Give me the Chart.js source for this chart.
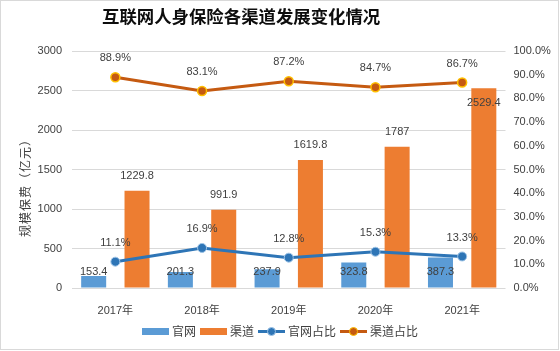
<!DOCTYPE html>
<html>
<head>
<meta charset="utf-8">
<script src="https://cdn.jsdelivr.net/npm/chart.js@4.4.1/dist/chart.umd.min.js"></script>
<style>
html,body{margin:0;padding:0;background:#fff;}
canvas{display:block;}
</style>
</head>
<body>
<canvas id="c" width="560" height="351"></canvas>
<script>
const categories = ['2017年', '2018年', '2019年', '2020年', '2021年'];
const officialPremium = [153.4, 201.3, 237.9, 323.8, 387.3];
const channelPremium = [1229.8, 991.9, 1619.8, 1787, 2529.4];
const officialShare = [11.1, 16.9, 12.8, 15.3, 13.3];
const channelShare = [88.9, 83.1, 87.2, 84.7, 86.7];
const leftTicks = [0, 500, 1000, 1500, 2000, 2500, 3000];
const rightTicks = [0, 10, 20, 30, 40, 50, 60, 70, 80, 90, 100];
const titleText = '互联网人身保险各渠道发展变化情况';
const yTitleText = '规模保费（亿元）';
const seriesNames = ['官网', '渠道', '官网占比', '渠道占比'];

const FONT = '"Liberation Sans", "Noto Sans CJK SC", sans-serif';
const CJK = '"Noto Sans CJK SC", "Liberation Sans", sans-serif';
const C_BLUE = '#5B9BD5', C_ORANGE = '#ED7D31', C_BLUE_L = '#2E75B6', C_ORANGE_L = '#C55A11';

const decor = {
  id: 'decor',
  afterDatasetsDraw(chart) {
    const ctx = chart.ctx;
    ctx.save();
    ctx.font = '11px ' + FONT;
    ctx.fillStyle = '#404040';
    ctx.textAlign = 'center';
    ctx.textBaseline = 'middle';
    const mBlue = chart.getDatasetMeta(0), mOr = chart.getDatasetMeta(1);
    const mBL = chart.getDatasetMeta(2), mOL = chart.getDatasetMeta(3);
    const base = chart.scales.y.getPixelForValue(0);
    mBlue.data.forEach((el, i) => {
      ctx.fillText(String(officialPremium[i]), el.x, base - 16);
    });
    mOr.data.forEach((el, i) => {
      let y = el.y - 15;
      const py = mOL.data[i].y;
      if (Math.abs(y - py) < 14) y = el.y + 15;
      ctx.fillText(String(channelPremium[i]), el.x, y);
    });
    mBL.data.forEach((el, i) => {
      ctx.fillText(officialShare[i].toFixed(1) + '%', el.x, el.y - 19);
    });
    mOL.data.forEach((el, i) => {
      ctx.fillText(channelShare[i].toFixed(1) + '%', el.x, el.y - 19);
    });
    ctx.restore();
  },
  afterDraw(chart) {
    const ctx = chart.ctx;
    ctx.save();
    ctx.strokeStyle = '#d9d9d9';
    ctx.lineWidth = 1;
    ctx.strokeRect(0.5, 0.5, 558, 349);
    ctx.font = 'bold 17.4px ' + CJK;
    ctx.fillStyle = '#0d0d0d';
    ctx.textAlign = 'left';
    ctx.textBaseline = 'middle';
    ctx.fillText(titleText, 102, 16);
    ctx.save();
    ctx.translate(25, 185);
    ctx.rotate(-Math.PI / 2);
    ctx.font = '12px ' + CJK;
    ctx.fillStyle = '#404040';
    ctx.textAlign = 'center';
    ctx.textBaseline = 'middle';
    if ('letterSpacing' in ctx) ctx.letterSpacing = '1px';
    ctx.fillText(yTitleText, 0, 0);
    ctx.restore();
    ctx.font = '12px ' + CJK;
    ctx.textBaseline = 'middle';
    const ly = 331.5;
    const sw = 27, gap = 3, sep = 4;
    const widths = seriesNames.map(n => sw + gap + ctx.measureText(n).width);
    const total = widths.reduce((a, b) => a + b, 0) + sep * (seriesNames.length - 1);
    let x = 280 - total / 2;
    const colors = [C_BLUE, C_ORANGE, C_BLUE_L, C_ORANGE_L];
    seriesNames.forEach((n, i) => {
      if (i < 2) {
        ctx.fillStyle = colors[i];
        ctx.fillRect(x, ly - 3.5, sw, 7);
      } else {
        ctx.strokeStyle = colors[i];
        ctx.lineWidth = 3;
        ctx.beginPath();
        ctx.moveTo(x, ly);
        ctx.lineTo(x + sw, ly);
        ctx.stroke();
        ctx.beginPath();
        ctx.arc(x + sw / 2, ly, 4, 0, Math.PI * 2);
        ctx.fillStyle = colors[i];
        ctx.fill();
        ctx.lineWidth = 1;
        ctx.strokeStyle = i === 2 ? '#9DC3E6' : '#FFC000';
        ctx.stroke();
      }
      ctx.fillStyle = '#404040';
      ctx.textAlign = 'left';
      ctx.fillText(n, x + sw + gap, ly);
      x += widths[i] + sep;
    });
    ctx.restore();
  }
};

new Chart(document.getElementById('c'), {
  data: {
    labels: categories,
    datasets: [
      { type: 'bar', label: seriesNames[0], data: officialPremium, backgroundColor: C_BLUE, yAxisID: 'y', order: 2, barPercentage: 0.577, categoryPercentage: 1 },
      { type: 'bar', label: seriesNames[1], data: channelPremium, backgroundColor: C_ORANGE, yAxisID: 'y', order: 2, barPercentage: 0.577, categoryPercentage: 1 },
      { type: 'line', label: seriesNames[2], data: officialShare, borderColor: C_BLUE_L, backgroundColor: C_BLUE_L, borderWidth: 3, pointRadius: 4.5, pointBorderColor: '#9DC3E6', pointBorderWidth: 1, pointBackgroundColor: C_BLUE_L, yAxisID: 'y1', order: 1, tension: 0 },
      { type: 'line', label: seriesNames[3], data: channelShare, borderColor: C_ORANGE_L, backgroundColor: C_ORANGE_L, borderWidth: 3, pointRadius: 4.5, pointBorderColor: '#FFC000', pointBorderWidth: 1.5, pointBackgroundColor: C_ORANGE_L, yAxisID: 'y1', order: 0, tension: 0 }
    ]
  },
  options: {
    responsive: false,
    animation: false,
    devicePixelRatio: 1,
    layout: { padding: { top: 51, left: 0, right: 0, bottom: 0 } },
    plugins: { legend: { display: false }, title: { display: false }, tooltip: { enabled: false } },
    scales: {
      x: {
        grid: { display: false },
        border: { display: false },
        ticks: { font: { size: 11, family: FONT }, color: '#404040', padding: 8 },
        afterFit(s) { s.height = 63; }
      },
      y: {
        position: 'left', min: 0, max: 3000,
        afterBuildTicks(s) { s.ticks = leftTicks.map(v => ({ value: v })); },
        grid: { color: '#d9d9d9', drawTicks: false },
        border: { display: false },
        ticks: { font: { size: 11, family: FONT }, color: '#404040', padding: 10, callback: v => String(v) },
        afterFit(s) { s.width = 72; }
      },
      y1: {
        position: 'right', min: 0, max: 100,
        afterBuildTicks(s) { s.ticks = rightTicks.map(v => ({ value: v })); },
        grid: { display: false, drawTicks: false },
        border: { display: false },
        ticks: { font: { size: 11, family: FONT }, color: '#404040', padding: 8, callback: v => v.toFixed(1) + '%' },
        afterFit(s) { s.width = 54.5; }
      }
    }
  },
  plugins: [decor]
});
</script>
</body>
</html>
